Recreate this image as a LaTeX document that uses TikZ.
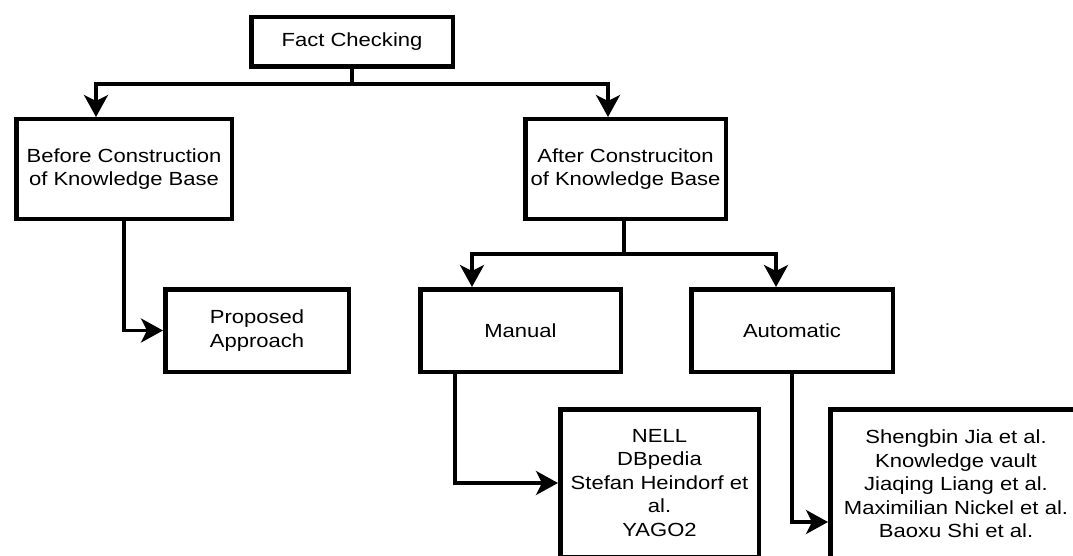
\documentclass[tikz,border=0pt]{standalone}
\usepackage{fontspec}
\setmainfont{Liberation Sans}[FakeStretch=1.16]
\usetikzlibrary{arrows.meta,positioning}
\begin{document}
\begin{tikzpicture}[x=1pt,y=-1pt,
  box/.style={draw=black, line width=4.5pt, fill=white, align=center,
    inner sep=0pt, font=\fontsize{19}{23.5}\selectfont},
  conn/.style={line width=3.4pt, -{Stealth[length=22pt,width=24pt,inset=6pt]}}]
  \useasboundingbox (0,0) rectangle (1073,556);
  \clip (0,0) rectangle (1073,556);

  % boxes: outer size minus the border width
  \node[box, minimum width=201.5pt, minimum height=49.5pt] (fact) at (352,42) {Fact Checking};
  \node[box, minimum width=215.5pt, minimum height=99.5pt] (before) at (124,169)
    {Before Construction\\of Knowledge Base};
  \node[box, minimum width=200.5pt, minimum height=99.5pt] (after) at (625.5,169)
    {After Construciton\\of Knowledge Base};
  \node[box, minimum width=183.5pt, minimum height=82.5pt] (proposed) at (257,330.5)
    {Proposed\\Approach};
  \node[box, minimum width=200.5pt, minimum height=82.5pt] (manual) at (520.5,330.5) {Manual};
  \node[box, minimum width=201.5pt, minimum height=82.5pt] (automatic) at (792,330.5) {Automatic};
  \node[box, minimum width=198.5pt, minimum height=147.5pt] (nell) at (659.5,483)
    {NELL\\DBpedia\\Stefan Heindorf et\\al.\\YAGO2};
  \node[box, minimum width=251.5pt, minimum height=149.5pt] (works) at (956,484)
    {Shengbin Jia et al.\\Knowledge vault\\Jiaqing Liang et al.\\Maximilian Nickel et al.\\Baoxu Shi et al.};

  % connectors
  \draw[conn] (fact.south) -- ++(0,15) -| ([xshift=-28pt]before.north);
  \draw[conn] (fact.south) -- ++(0,15) -| ([xshift=-17.5pt]after.north);
  \draw[conn] (before.south) |- (proposed.west);
  \draw[conn] ([xshift=-1.5pt]after.south) -- ++(0,33) -| ([xshift=-48.5pt]manual.north);
  \draw[conn] ([xshift=-1.5pt]after.south) -- ++(0,33) -| ([xshift=-16pt]automatic.north);
  \draw[conn] ([xshift=-65.5pt]manual.south) |- (nell.west);
  \draw[conn] (automatic.south) |- ([yshift=-38pt]works.west);
\end{tikzpicture}
\end{document}
